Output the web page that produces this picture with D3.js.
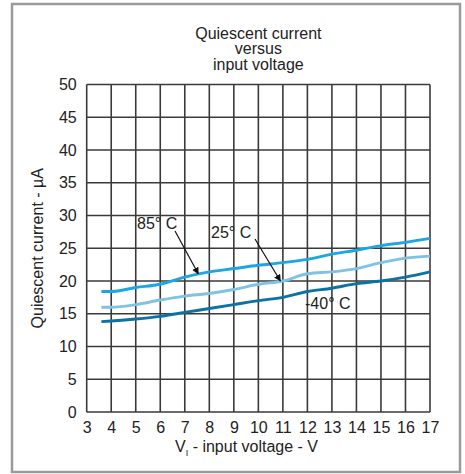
<!DOCTYPE html>
<html>
<head>
<meta charset="utf-8">
<script src="https://cdn.jsdelivr.net/npm/d3@7"></script>
<style>
  html, body { margin: 0; padding: 0; background: #fff; }
  svg { display: block; font-family: "Liberation Sans", Arial, sans-serif; }
</style>
</head>
<body>
<svg id="chart" width="465" height="474"></svg>
<script>
// Input voltage samples (V)
const voltage = [3.6, 4, 5, 6, 7, 8, 9, 10, 11, 12, 13, 14, 15, 16, 17];
// Quiescent current (µA) per temperature
const current85 = [18.4, 18.4, 19.0, 19.5, 20.6, 21.4, 21.9, 22.4, 22.8, 23.3, 24.1, 24.7, 25.4, 25.9, 26.5];
const current25 = [16.0, 16.0, 16.4, 17.1, 17.7, 18.1, 18.7, 19.5, 20.0, 21.1, 21.4, 21.9, 22.8, 23.5, 23.8];
const currentM40 = [13.8, 13.9, 14.2, 14.6, 15.2, 15.8, 16.4, 17.0, 17.5, 18.4, 18.9, 19.6, 20.0, 20.6, 21.4];
const seriesNames = ["85° C", "25° C", "-40° C"];
const xTicks = [3, 4, 5, 6, 7, 8, 9, 10, 11, 12, 13, 14, 15, 16, 17];
const yTicks = [0, 5, 10, 15, 20, 25, 30, 35, 40, 45, 50];
const titleLines = ["Quiescent current", "versus", "input voltage"];

const svg = d3.select("#chart");
const FONT = 16;
const plot = { left: 86.7, right: 430, top: 84.5, bottom: 412 };

// Outer frame
svg.append("rect")
  .attr("x", 12).attr("y", 4).attr("width", 448).attr("height", 468)
  .attr("fill", "#fff").attr("stroke", "#9a9a9a").attr("stroke-width", 2.5);

const x = d3.scaleLinear().domain([3, 17]).range([plot.left, plot.right]);
const y = d3.scaleLinear().domain([0, 50]).range([plot.bottom, plot.top]);

// Title
const title = svg.append("text").attr("text-anchor", "middle")
  .attr("font-size", FONT).attr("fill", "#222");
titleLines.forEach((t, i) => {
  title.append("tspan").attr("x", (plot.left + plot.right) / 2)
    .attr("y", 38.5 + i * 15.5).text(t);
});

// Grid
const grid = svg.append("g").attr("stroke", "#3a3a3a").attr("stroke-width", 1.6);
grid.selectAll("line.v").data(xTicks).join("line")
  .attr("x1", d => x(d)).attr("x2", d => x(d))
  .attr("y1", plot.top).attr("y2", plot.bottom);
grid.selectAll("line.h").data(yTicks).join("line")
  .attr("y1", d => y(d)).attr("y2", d => y(d))
  .attr("x1", plot.left).attr("x2", plot.right);

// Axes (labels only; grid supplies the lines)
const xAxis = d3.axisBottom(x).tickValues(xTicks).tickSize(0).tickPadding(9.5);
const gx = svg.append("g").attr("transform", `translate(0,${plot.bottom})`).call(xAxis);
gx.select(".domain").remove();
gx.selectAll("text").attr("font-size", FONT).attr("fill", "#222")
  .attr("font-family", '"Liberation Sans", Arial, sans-serif');

const yAxis = d3.axisLeft(y).tickValues(yTicks).tickSize(0).tickPadding(10);
const gy = svg.append("g").attr("transform", `translate(${plot.left},0)`).call(yAxis);
gy.select(".domain").remove();
gy.selectAll("text").attr("font-size", FONT).attr("fill", "#222")
  .attr("font-family", '"Liberation Sans", Arial, sans-serif');

// Axis titles
const xl = svg.append("text").attr("x", 175).attr("y", 451.5)
  .attr("font-size", FONT).attr("fill", "#222");
xl.append("tspan").text("V");
xl.append("tspan").attr("dy", 4.5).attr("font-size", 9).text("I");
xl.append("tspan").attr("dy", -4.5).text(" - input voltage - V");

svg.append("text")
  .attr("transform", `translate(43,${(plot.top + plot.bottom) / 2}) rotate(-90)`)
  .attr("text-anchor", "middle").attr("font-size", FONT).attr("fill", "#222")
  .text("Quiescent current - µA");

// Curves
const series = [
  { name: seriesNames[0], values: current85, color: "#1ba6e4" },
  { name: seriesNames[1], values: current25, color: "#80c2e3" },
  { name: seriesNames[2], values: currentM40, color: "#0b72a3" }
];
const line = d3.line().curve(d3.curveMonotoneX)
  .x((d, i) => x(voltage[i])).y(d => y(d));
svg.append("g").selectAll("path").data(series).join("path")
  .attr("d", s => line(s.values))
  .attr("fill", "none").attr("stroke", s => s.color).attr("stroke-width", 2.9);

// Annotations
svg.append("defs").append("marker")
  .attr("id", "arrow").attr("viewBox", "0 0 10 10")
  .attr("refX", 9).attr("refY", 5).attr("markerWidth", 7).attr("markerHeight", 7)
  .attr("markerUnits", "userSpaceOnUse").attr("orient", "auto")
  .append("path").attr("d", "M0,0 L10,5 L0,10 Z").attr("fill", "#111");

const labels = svg.append("g").attr("font-size", FONT).attr("fill", "#222");
labels.append("text").attr("x", 137).attr("y", 229).text(seriesNames[0]);
labels.append("text").attr("x", 211).attr("y", 238).text(seriesNames[1]);
labels.append("text").attr("x", 305).attr("y", 308.5).text(seriesNames[2]);

const arrows = svg.append("g").attr("stroke", "#111").attr("stroke-width", 1.2);
arrows.append("line").attr("x1", 175).attr("y1", 231).attr("x2", x(7.55)).attr("y2", y(21.1))
  .attr("marker-end", "url(#arrow)");
arrows.append("line").attr("x1", 255).attr("y1", 239).attr("x2", x(10.9)).attr("y2", y(20.0))
  .attr("marker-end", "url(#arrow)");
</script>
</body>
</html>
